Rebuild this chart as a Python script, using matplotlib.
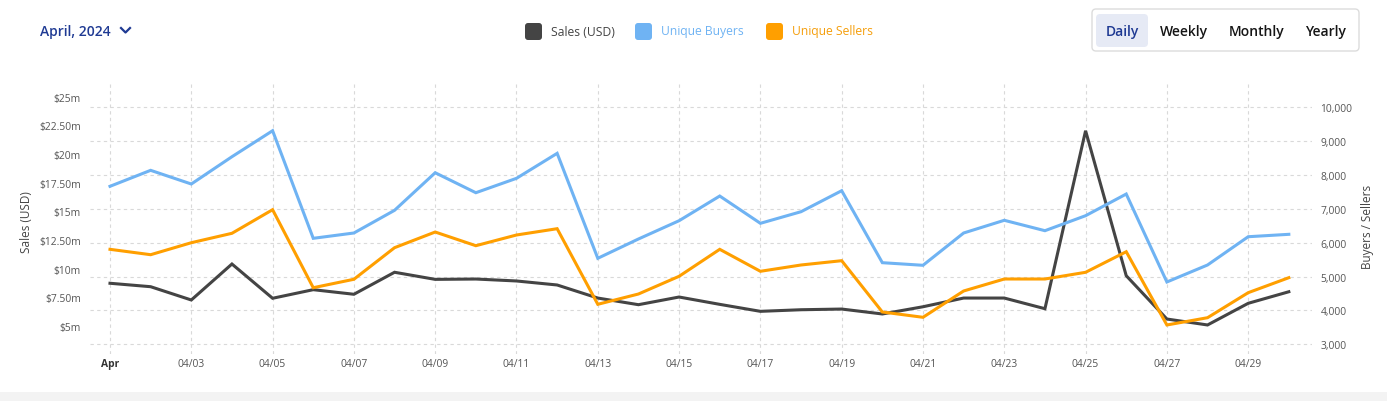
import matplotlib
matplotlib.use('Agg')
import matplotlib.pyplot as plt
from matplotlib.patches import FancyBboxPatch, Rectangle
from matplotlib.lines import Line2D
from matplotlib.transforms import IdentityTransform

plt.rcParams['font.family'] = ['Open Sans', 'DejaVu Sans']

# dados (abril 2024)
dias = list(range(1, 31))
vendas = [8.73, 8.43, 7.27, 10.41, 7.42, 8.17, 7.77, 9.69, 9.07, 9.10,
          8.93, 8.58, 7.44, 6.86, 7.53, 6.89, 6.28, 6.42, 6.48, 6.05,
          6.68, 7.44, 7.44, 6.51, 22.04, 9.39, 5.61, 5.09, 6.98, 7.99]
compradores = [7666, 8138, 7734, 8540, 9308, 6130, 6287, 6957, 8067, 7477,
               7902, 8640, 5540, 6110, 6650, 7379, 6573, 6916, 7536, 5410,
               5333, 6287, 6662, 6355, 6798, 7438, 4840, 5342, 6177, 6248]
vendedores = [5805, 5646, 6000, 6278, 6975, 4671, 4920, 5853, 6316, 5912,
              6228, 6414, 4181, 4485, 5008, 5805, 5156, 5342, 5469, 3954,
              3797, 4574, 4928, 4928, 5126, 5734, 3570, 3785, 4524, 4967]

x_ticks = list(range(1, 31, 2))
x_labels = ['Apr'] + ['04/%02d' % d for d in range(3, 31, 2)]
vendas_ticks = [5, 7.5, 10, 12.5, 15, 17.5, 20, 22.5, 25]
contagem_ticks = [3000, 4000, 5000, 6000, 7000, 8000, 9000, 10000]

botoes = ['Daily', 'Weekly', 'Monthly', 'Yearly']
legenda = ['Sales (USD)', 'Unique Buyers', 'Unique Sellers']

COR_VENDAS = '#444444'
COR_COMPRADORES = '#6fb3f3'
COR_VENDEDORES = '#ff9f00'
COR_TICK = '#555555'
AZUL = '#1f3a93'

W, H = 1387, 402
fig = plt.figure(figsize=(W / 100, H / 100), dpi=100)
fig.patch.set_facecolor('white')

pos = [90 / W, 1 - 355 / H, (1312 - 90) / W, (355 - 85) / H]

# eixo base: grade + rótulos da direita
ax = fig.add_axes(pos)
ax.set_xlim(0.508, 30.57)
ax.set_ylim(2713, 10688)
ax.set_xticks(x_ticks)
ax.set_xticklabels(x_labels)
ax.grid(True, color='#d9d9d9', linestyle=(0, (3, 3)), linewidth=0.8)
for s in ax.spines.values():
    s.set_visible(False)

# eixo das vendas (esquerda)
ax_v = ax.twinx()
ax_v.set_ylim(2.557, 26.12)
ax_v.yaxis.tick_left()
ax_v.set_yticks(vendas_ticks)
ax_v.set_yticklabels(['$%dm' % v if v == int(v) else '$%.2fm' % v for v in vendas_ticks])
ax_v.tick_params(axis='y', length=0, pad=6.5, labelsize=7.4, colors=COR_TICK)
ax_v.plot(dias, vendas, color=COR_VENDAS, lw=2.2, solid_joinstyle='miter')
for s in ax_v.spines.values():
    s.set_visible(False)

# compradores / vendedores por cima
ax_c = ax.twinx()
ax_c.set_ylim(2713, 10688)
ax_c.set_yticks([])
ax_c.plot(dias, compradores, color=COR_COMPRADORES, lw=2.2, solid_joinstyle='miter')
ax_c.plot(dias, vendedores, color=COR_VENDEDORES, lw=2.2, solid_joinstyle='miter')
for s in ax_c.spines.values():
    s.set_visible(False)

# rótulos da direita (depois do twinx, que os manda para a esquerda)
ax.yaxis.tick_right()
ax.set_yticks(contagem_ticks)
ax.set_yticklabels(['{:,}'.format(v) for v in contagem_ticks])
ax.tick_params(axis='y', length=0, pad=6, labelsize=7.4, colors=COR_TICK)
ax.tick_params(axis='x', length=0, pad=3, labelsize=7.4, colors=COR_TICK)
ax.get_xticklabels()[0].set_fontweight('bold')
ax.get_xticklabels()[0].set_color('#333333')

fig.text(27 / W, 1 - 222 / H, 'Sales (USD)', rotation=90, ha='center', va='center',
         fontsize=8.5, color='#444444')
fig.text(1368 / W, 1 - 227 / H, 'Buyers / Sellers', rotation=90, ha='center', va='center',
         fontsize=8.5, color='#444444')

# cabeçalho
fig.text(40 / W, 1 - 32 / H, 'April, 2024', ha='left', va='center',
         fontsize=10, fontweight='semibold', color=AZUL)
fig.add_artist(Line2D([121, 125.5, 130], [H - 29, H - 33.5, H - 29],
                      transform=IdentityTransform(), color=AZUL, lw=1.6))

cores_leg = [COR_VENDAS, COR_COMPRADORES, COR_VENDEDORES]
cores_txt = ['#444444', COR_COMPRADORES, '#f59e0b']
quad_x = [525, 635, 766]
for nome, cq, ct, qx in zip(legenda, cores_leg, cores_txt, quad_x):
    fig.add_artist(FancyBboxPatch((qx, H - 41), 17, 17, boxstyle='round,pad=0,rounding_size=3',
                                  transform=IdentityTransform(), facecolor=cq, edgecolor='none'))
    fig.text((qx + 26) / W, 1 - 32 / H, nome, ha='left', va='center', fontsize=8.7, color=ct)

# botões
fig.add_artist(FancyBboxPatch((1092, H - 52), 267, 42, boxstyle='round,pad=0,rounding_size=4',
                              transform=IdentityTransform(), facecolor='white',
                              edgecolor='#dcdcdc', lw=1))
fig.add_artist(FancyBboxPatch((1096, H - 48), 52, 33, boxstyle='round,pad=0,rounding_size=4',
                              transform=IdentityTransform(), facecolor='#e6eaf5', edgecolor='none'))
botao_x = [1122, 1184, 1257, 1326]
for b, bx in zip(botoes, botao_x):
    fig.text(bx / W, 1 - 32 / H, b, ha='center', va='center', fontsize=10,
             fontweight='semibold', color=AZUL if b == 'Daily' else '#151515')

# faixa cinza no rodapé
fig.add_artist(Rectangle((0, 0), W, 9, transform=IdentityTransform(),
                         facecolor='#f3f3f3', edgecolor='none'))

fig.savefig('out.png', dpi=100)
